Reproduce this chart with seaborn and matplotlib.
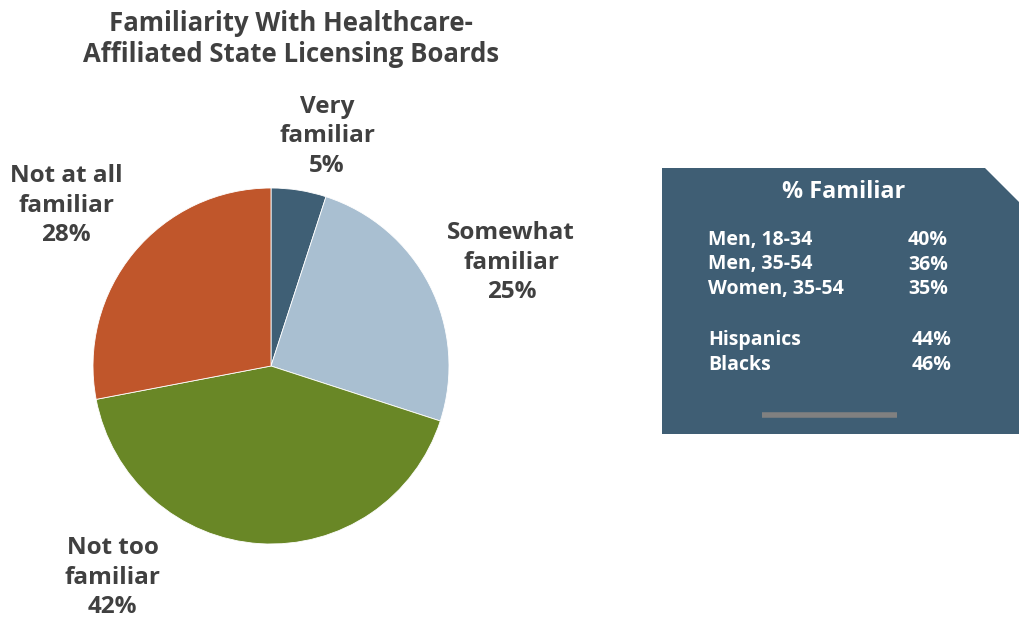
import matplotlib
matplotlib.use("Agg")
import matplotlib.pyplot as plt
from matplotlib.patches import Polygon
import seaborn as sns

sns.set_theme(style="white")
plt.rcParams['font.family'] = ['Open Sans', 'DejaVu Sans']

# Pie data
categories = ["Very\nfamiliar", "Somewhat\nfamiliar", "Not too\nfamiliar", "Not at all\nfamiliar"]
shares = [5, 25, 42, 28]
slice_colors = ["#3F5F75", "#A9BFD1", "#698726", "#C0562B"]
# label anchor points in pie units (radius = 1)
label_xy = [(0.315, 1.29), (1.35, 0.58), (-0.89, -1.19), (-1.15, 0.90)]

# Side panel data
groups_age = ["Men, 18-34", "Men, 35-54", "Women, 35-54"]
pct_age = [40, 36, 35]
groups_race = ["Hispanics", "Blacks"]
pct_race = [44, 46]

W, H = 1020, 620
fig = plt.figure(figsize=(W / 100, H / 100), dpi=100)
fig.patch.set_facecolor("white")

# Pie axes placed by pixel centre and radius
cx, cy, r = 271, 366, 178
ax = fig.add_axes([(cx - r) / W, (H - cy - r) / H, 2 * r / W, 2 * r / H])
wedges, _ = ax.pie(shares, colors=slice_colors, startangle=90, counterclock=False,
                   radius=1, wedgeprops=dict(edgecolor="white", linewidth=0.6))
ax.set_xlim(-1, 1)
ax.set_ylim(-1, 1)
ax.set_aspect("equal")
ax.axis("off")

text_color = "#404040"
for name, val, (lx, ly) in zip(categories, shares, label_xy):
    ax.text(lx, ly, f"{name}\n{val}%", ha="center", va="center", fontsize=17.5,
            fontweight="bold", color=text_color, linespacing=1.3, clip_on=False)

# Overlay in pixel coordinates for title and side panel
ov = fig.add_axes([0, 0, 1, 1], zorder=-1)
ov.set_xlim(0, W)
ov.set_ylim(H, 0)
ov.axis("off")

ov.text(291, 39, "Familiarity With Healthcare-\nAffiliated State Licensing Boards",
        ha="center", va="center", fontsize=18.5, fontweight="bold", color=text_color,
        linespacing=1.2)

panel = Polygon([(662, 168), (985, 168), (1020, 203), (1020, 434), (662, 434)],
                closed=True, facecolor="#3F5E74", edgecolor="none")
ov.add_patch(panel)

ov.text(844, 192, "% Familiar", ha="center", va="center", fontsize=16.8,
        fontweight="bold", color="white")

fs = 14
for i, (g, p) in enumerate(zip(groups_age, pct_age)):
    y = 240 + i * 24.5
    ov.text(708, y, g, ha="left", va="center", fontsize=fs, fontweight="bold", color="white")
    ov.text(948, y, f"{p}%", ha="right", va="center", fontsize=fs, fontweight="bold", color="white")
for i, (g, p) in enumerate(zip(groups_race, pct_race)):
    y = 340 + i * 25
    ov.text(708, y, g, ha="left", va="center", fontsize=fs, fontweight="bold", color="white")
    ov.text(952, y, f"{p}%", ha="right", va="center", fontsize=fs, fontweight="bold", color="white")

ov.plot([762, 897], [415, 415], color="#808080", linewidth=4, solid_capstyle="butt")

fig.savefig("out.png", dpi=100)
